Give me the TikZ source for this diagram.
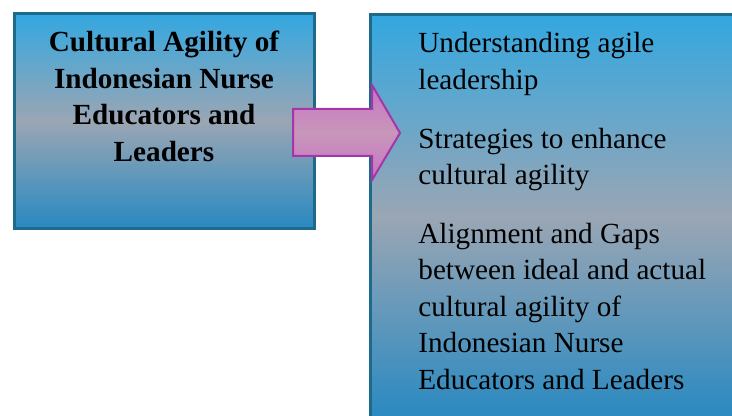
\documentclass[tikz,border=0pt]{standalone}
\usepackage{fontspec}
\setmainfont{Liberation Serif}
\usepackage{xcolor}
\usetikzlibrary{positioning}
\definecolor{boxtop}{HTML}{33A7E0}
\definecolor{boxmid}{HTML}{9AA6B4}
\definecolor{boxbot}{HTML}{2889C1}
\definecolor{boxline}{HTML}{1E6A8C}
\definecolor{arrowtop}{HTML}{C874C6}
\definecolor{arrowmid}{HTML}{C896BA}
\definecolor{arrowline}{HTML}{A535A8}
\tikzset {
  % shaded blue boxes
  box/.style = {draw=boxline, line width=1.5pt, rectangle, inner sep=0pt, outer sep=0pt,
    top color=boxtop, bottom color=boxbot, middle color=boxmid},
  % texts in the boxes
  heading/.style = {font=\fontsize{14.6}{18.2}\selectfont\bfseries, align=center, inner sep=0pt},
  items/.style = {font=\fontsize{14.6}{18.2}\selectfont, align=left, inner sep=0pt},
  % the big pink arrow between the boxes
  pointer/.style = {draw=arrowline, line width=1pt, line join=miter,
    top color=arrowtop, bottom color=arrowtop, middle color=arrowmid},
}

\begin{document}
\begin{tikzpicture}[x=0.5pt, y=0.5pt]
  \useasboundingbox (0,0) rectangle (732,416);
  \clip (0,0) rectangle (732,416);

  \node[box, minimum width=150pt, minimum height=107.5pt] (agility) at (164,295) {};
  \node[box, anchor=north west, minimum width=200pt, minimum height=202.5pt] (themes) at (370.5,401.5) {};

  \node[heading, below=8.75pt of agility.north] (agilitytext)
    {Cultural Agility of\\Indonesian Nurse\\Educators and\\Leaders};
  \node[items, below right=8.75pt and 23.75pt of themes.north west] (themestext)
    {Understanding agile\\leadership\\[11.3pt]
     Strategies to enhance\\cultural agility\\[11.3pt]
     Alignment and Gaps\\between ideal and actual\\cultural agility of\\Indonesian Nurse\\Educators and Leaders};

  \coordinate (tail) at (293,283);
  \coordinate (tip) at (400,283);
  \draw[pointer] (tail) ++(0,24) -- ++(79,0) -- ++(0,24) -- (tip) -- ++(-28,-47)
    -- ++(0,24) -- ++(-79,0) -- cycle;
\end{tikzpicture}
\end{document}
